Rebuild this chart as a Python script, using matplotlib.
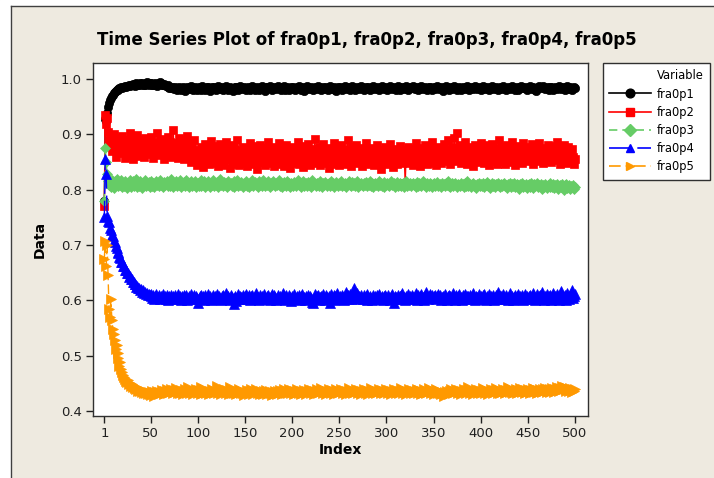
import numpy as np
import matplotlib
matplotlib.use("Agg")
import matplotlib.pyplot as plt
from matplotlib.lines import Line2D
from matplotlib.patches import Rectangle

# 各系列の値 (千分率で記録、描画時に /1000)
fra0p1_k = [
    780, 928, 925, 938, 950, 957, 962, 966, 970, 972, 975, 977, 979, 980, 982, 981, 983, 984, 985, 984, 986, 985, 987, 986, 988,
    987, 989, 988, 990, 989, 991, 990, 988, 991, 992, 990, 989, 991, 993, 990, 992, 991, 989, 990, 992, 994, 991, 990, 992, 991,
    993, 990, 989, 991, 992, 990, 988, 991, 993, 995, 992, 990, 989, 991, 990, 988, 987, 989, 986, 984, 985, 983, 986, 984, 982,
    985, 983, 981, 984, 986, 982, 980, 983, 985, 984, 981, 979, 983, 986, 984, 982, 985, 987, 984, 981, 983, 985, 982, 980, 984,
    986, 983, 981, 985, 987, 984, 982, 980, 983, 986, 985, 982, 979, 983, 985, 984, 986, 983, 981, 984, 987, 985, 982, 984, 986,
    983, 980, 982, 985, 987, 984, 981, 983, 986, 984, 982, 978, 981, 984, 986, 985, 983, 980, 984, 987, 985, 982, 984, 986, 983,
    981, 984, 986, 983, 980, 982, 985, 988, 985, 982, 980, 983, 986, 984, 981, 983, 985, 987, 984, 982, 979, 983, 986, 985, 983,
    984, 987, 984, 981, 983, 986, 984, 982, 985, 988, 985, 983, 980, 982, 985, 987, 984, 981, 983, 985, 983, 980, 984, 986, 983,
    985, 982, 980, 983, 986, 984, 987, 984, 981, 983, 985, 982, 978, 982, 985, 987, 985, 982, 984, 986, 983, 981, 983, 986, 984,
    982, 985, 988, 985, 983, 980, 983, 986, 984, 982, 985, 983, 981, 984, 987, 985, 982, 983, 986, 984, 981, 979, 983, 985, 984,
    986, 983, 980, 982, 985, 987, 985, 982, 984, 986, 983, 981, 984, 987, 985, 983, 980, 983, 986, 984, 982, 985, 988, 985, 983,
    981, 983, 986, 984, 982, 985, 983, 980, 982, 985, 987, 984, 982, 984, 986, 983, 981, 983, 985, 988, 985, 982, 984, 986, 983,
    980, 983, 985, 987, 984, 982, 984, 986, 983, 981, 984, 987, 985, 982, 980, 983, 986, 984, 982, 985, 987, 984, 981, 983, 985,
    983, 986, 988, 985, 982, 984, 986, 983, 980, 982, 985, 987, 984, 982, 984, 986, 984, 981, 983, 986, 985, 982, 980, 983, 986,
    984, 982, 985, 987, 985, 982, 984, 986, 983, 979, 982, 985, 987, 985, 983, 981, 984, 986, 984, 982, 985, 988, 986, 983, 981,
    984, 986, 983, 981, 983, 986, 984, 982, 985, 987, 985, 983, 980, 983, 986, 984, 982, 985, 987, 984, 982, 984, 986, 983, 981,
    983, 985, 988, 985, 982, 984, 986, 983, 980, 982, 985, 987, 985, 982, 984, 986, 984, 981, 983, 986, 984, 982, 985, 987, 984,
    982, 980, 983, 986, 984, 982, 985, 987, 985, 983, 981, 984, 986, 983, 981, 983, 986, 988, 985, 983, 984, 986, 983, 980, 983,
    985, 987, 984, 982, 984, 986, 983, 981, 979, 982, 985, 987, 985, 983, 985, 987, 984, 982, 984, 986, 984, 981, 983, 986, 985,
    983, 981, 984, 986, 984, 982, 985, 987, 985, 982, 984, 986, 983, 981, 983, 985, 987, 984, 982, 985, 983, 981, 984, 986, 984,
]

fra0p2_k = [
    770, 935, 918, 930, 905, 890, 880, 895, 870, 885, 900, 872, 860, 888, 878, 893, 866, 881, 875, 897, 869, 884, 858, 890, 876,
    862, 887, 903, 871, 879, 856, 892, 868, 883, 874, 899, 865, 880, 861, 889, 873, 885, 859, 894, 870, 877, 864, 891, 882, 868,
    896, 873, 857, 886, 879, 866, 902, 875, 884, 862, 891, 870, 878, 855, 888, 881, 869, 895, 874, 863, 887, 876, 860, 908, 872,
    885, 867, 880, 858, 893, 871, 877, 864, 889, 856, 875, 882, 868, 897, 861, 879, 873, 850, 884, 866, 890, 858, 872, 845, 862,
    848, 870, 855, 877, 862, 841, 866, 883, 852, 859, 874, 846, 868, 888, 857, 863, 849, 879, 854, 871, 843, 865, 860, 882, 851,
    867, 845, 876, 858, 886, 853, 862, 871, 840, 869, 856, 880, 847, 864, 873, 852, 889, 861, 844, 870, 857, 866, 878, 849, 863,
    874, 842, 860, 868, 885, 851, 865, 857, 879, 846, 862, 872, 838, 867, 855, 881, 850, 869, 859, 876, 844, 863, 871, 853, 887,
    848, 861, 873, 856, 866, 842, 878, 859, 852, 870, 884, 847, 864, 857, 875, 843, 868, 860, 881, 851, 866, 873, 839, 862, 857,
    877, 849, 864, 871, 855, 886, 846, 860, 868, 853, 879, 841, 865, 857, 872, 850, 883, 862, 845, 869, 856, 874, 860, 892, 848,
    863, 870, 852, 878, 845, 866, 858, 882, 849, 867, 873, 855, 861, 840, 876, 859, 869, 847, 885, 856, 864, 851, 872, 862, 844,
    868, 880, 853, 861, 874, 846, 866, 858, 889, 850, 863, 870, 843, 877, 857, 865, 852, 881, 848, 862, 871, 855, 867, 842, 875,
    860, 853, 884, 864, 847, 869, 858, 876, 851, 862, 873, 844, 866, 856, 880, 849, 868, 861, 838, 872, 857, 865, 852, 878, 846,
    862, 870, 855, 883, 850, 864, 841, 868, 859, 874, 846, 863, 857, 879, 853, 866, 849, 872, 860, 812, 865, 854, 877, 848, 869,
    858, 873, 845, 867, 861, 884, 852, 864, 856, 871, 843, 876, 859, 866, 850, 881, 862, 847, 869, 855, 873, 860, 886, 849, 864,
    857, 870, 844, 878, 862, 853, 867, 848, 875, 860, 882, 851, 866, 857, 889, 855, 871, 846, 868, 877, 859, 893, 864, 852, 903,
    870, 858, 881, 849, 866, 874, 855, 887, 861, 847, 869, 857, 878, 852, 865, 873, 843, 862, 880, 856, 868, 850, 876, 861, 884,
    853, 867, 874, 848, 863, 880, 857, 870, 845, 866, 859, 883, 851, 872, 862, 876, 846, 865, 889, 855, 869, 852, 878, 860, 871,
    847, 866, 881, 856, 863, 873, 850, 886, 861, 868, 845, 875, 858, 866, 853, 879, 862, 870, 848, 884, 857, 873, 865, 851, 877,
    860, 869, 855, 882, 864, 846, 872, 858, 878, 852, 867, 885, 856, 863, 871, 849, 876, 861, 868, 854, 880, 862, 857, 874, 850,
    866, 879, 858, 871, 853, 887, 862, 869, 847, 875, 860, 866, 881, 855, 872, 849, 864, 877, 858, 868, 852, 873, 860, 846, 856,
]

fra0p3_k = [
    780, 875, 850, 828, 815, 808, 812, 805, 818, 810, 803, 815, 808, 820, 811, 806, 814, 809, 817, 804, 812, 807, 816, 810, 803,
    813, 808, 818, 805, 811, 816, 806, 812, 809, 819, 804, 811, 807, 815, 810, 803, 813, 808, 817, 806, 812, 809, 814, 805, 811,
    816, 807, 812, 804, 810, 815, 808, 813, 806, 818, 809, 811, 805, 814, 808, 812, 816, 806, 810, 813, 807, 819, 809, 805, 812,
    808, 815, 806, 811, 809, 817, 804, 812, 808, 814, 810, 806, 818, 809, 813, 805, 811, 816, 807, 812, 809, 815, 804, 810, 813,
    807, 812, 818, 806, 811, 809, 815, 805, 812, 808, 816, 810, 804, 813, 809, 817, 806, 811, 808, 814, 810, 805, 812, 819, 808,
    811, 806, 814, 809, 812, 805, 816, 808, 811, 813, 807, 810, 815, 804, 812, 809, 817, 806, 811, 808, 814, 810, 805, 813, 809,
    816, 807, 811, 804, 813, 809, 812, 818, 806, 810, 814, 808, 811, 805, 815, 809, 812, 807, 817, 810, 806, 813, 808, 811, 815,
    809, 805, 812, 808, 816, 810, 806, 813, 809, 811, 817, 807, 812, 804, 810, 814, 808, 811, 806, 815, 809, 812, 805, 813, 810,
    807, 814, 810, 806, 812, 818, 808, 811, 805, 813, 809, 816, 807, 810, 812, 806, 814, 809, 811, 805, 817, 808, 812, 810, 806,
    813, 809, 811, 807, 815, 810, 805, 812, 808, 814, 811, 806, 810, 813, 807, 816, 809, 812, 805, 811, 808, 814, 810, 806, 812,
    809, 815, 807, 811, 808, 813, 805, 810, 812, 816, 808, 811, 806, 814, 809, 812, 807, 810, 815, 805, 811, 808, 813, 809, 806,
    812, 808, 814, 810, 806, 811, 809, 816, 807, 812, 805, 810, 813, 808, 811, 806, 815, 809, 812, 807, 810, 814, 805, 811, 808,
    813, 809, 806, 811, 815, 808, 810, 812, 805, 809, 814, 807, 811, 808, 813, 806, 810, 812, 804, 809, 815, 807, 811, 808, 812,
    806, 810, 813, 808, 811, 805, 809, 814, 807, 812, 809, 806, 811, 815, 808, 810, 804, 812, 809, 807, 813, 810, 805, 811, 808,
    812, 807, 810, 814, 806, 809, 811, 805, 813, 808, 810, 806, 812, 809, 815, 807, 811, 804, 809, 812, 806, 810, 813, 808, 805,
    811, 809, 806, 813, 808, 810, 804, 812, 807, 809, 815, 806, 811, 808, 805, 810, 813, 807, 809, 803, 811, 808, 812, 806, 810,
    807, 812, 809, 805, 811, 808, 814, 806, 810, 803, 809, 812, 807, 810, 805, 811, 808, 813, 806, 809, 804, 811, 807, 810, 812,
    806, 809, 803, 811, 808, 813, 805, 810, 807, 812, 804, 809, 806, 811, 808, 802, 810, 807, 813, 805, 809, 806, 811, 803, 808,
    810, 805, 812, 807, 809, 803, 811, 806, 808, 813, 804, 809, 806, 810, 801, 808, 805, 811, 807, 803, 809, 806, 812, 804, 808,
    805, 810, 803, 808, 806, 811, 802, 807, 809, 804, 810, 806, 799, 808, 805, 810, 803, 807, 809, 801, 806, 804, 808, 802, 805,
]

fra0p4_k = [
    750, 855, 828, 752, 744, 741, 731, 728, 719, 717, 708, 706, 698, 695, 687, 685, 678, 677, 670, 669, 662, 662, 655, 655, 649,
    649, 643, 644, 638, 639, 633, 634, 629, 630, 625, 626, 622, 623, 619, 620, 616, 618, 614, 616, 612, 614, 610, 612, 609, 611,
    608, 605, 610, 603, 607, 611, 604, 606, 609, 602, 608, 605, 612, 604, 607, 603, 609, 606, 601, 608, 605, 610, 603, 607, 604,
    609, 602, 606, 611, 604, 608, 601, 607, 605, 610, 603, 606, 609, 600, 605, 608, 603, 611, 606, 604, 609, 602, 607, 605, 596,
    604, 608, 602, 610, 605, 607, 601, 609, 604, 606, 612, 603, 607, 600, 605, 609, 604, 608, 602, 611, 606, 603, 608, 605, 601,
    607, 610, 604, 606, 613, 602, 608, 605, 601, 609, 606, 603, 594, 604, 607, 599, 605, 611, 603, 608, 606, 602, 609, 604, 607,
    612, 603, 606, 609, 601, 607, 604, 610, 605, 602, 608, 614, 604, 606, 600, 609, 605, 607, 603, 611, 606, 602, 608, 604, 610,
    605, 601, 607, 612, 603, 609, 606, 600, 605, 610, 604, 608, 602, 606, 613, 604, 607, 601, 609, 605, 603, 610, 606, 599, 608,
    604, 611, 606, 602, 608, 605, 609, 601, 607, 604, 612, 603, 606, 600, 608, 605, 610, 602, 607, 604, 597, 596, 605, 611, 603,
    607, 604, 610, 601, 606, 608, 603, 612, 605, 600, 609, 606, 602, 608, 595, 611, 606, 603, 609, 601, 607, 605, 614, 604, 602,
    608, 603, 610, 606, 600, 607, 615, 604, 609, 602, 606, 611, 603, 608, 605, 622, 609, 606, 613, 604, 607, 602, 610, 605, 603,
    609, 604, 607, 601, 611, 606, 603, 608, 605, 600, 610, 604, 607, 602, 609, 606, 612, 603, 605, 608, 601, 607, 604, 610, 606,
    603, 609, 605, 601, 607, 612, 604, 595, 608, 606, 602, 610, 605, 607, 603, 609, 614, 604, 606, 601, 608, 605, 611, 603, 607,
    604, 610, 606, 602, 608, 613, 605, 600, 609, 603, 607, 611, 604, 606, 601, 609, 616, 605, 603, 608, 612, 606, 610, 604, 607,
    605, 610, 603, 607, 612, 604, 609, 601, 606, 608, 603, 611, 605, 600, 607, 610, 604, 608, 602, 606, 613, 605, 601, 609, 604,
    607, 611, 603, 606, 600, 609, 605, 612, 604, 607, 602, 608, 605, 610, 603, 606, 614, 604, 601, 608, 606, 603, 611, 605, 607,
    602, 609, 604, 612, 606, 600, 608, 605, 611, 603, 607, 604, 610, 601, 606, 609, 603, 615, 605, 608, 602, 607, 604, 611, 606,
    603, 609, 605, 601, 608, 613, 604, 607, 600, 606, 610, 603, 608, 605, 612, 602, 607, 604, 609, 601, 606, 611, 604, 608, 603,
    607, 610, 602, 606, 614, 604, 608, 601, 605, 611, 603, 607, 609, 602, 616, 605, 601, 608, 606, 612, 603, 607, 604, 610, 601,
    606, 613, 604, 608, 602, 611, 605, 600, 609, 617, 603, 607, 604, 610, 601, 608, 614, 605, 603, 609, 606, 618, 604, 607, 612,
]

fra0p5_k = [
    675, 708, 662, 700, 645, 585, 570, 602, 565, 548, 540, 528, 512, 520, 505, 495, 482, 488, 476, 470, 466, 461, 458, 455, 452,
    456, 449, 451, 446, 448, 443, 445, 441, 444, 439, 442, 437, 440, 436, 439, 434, 437, 433, 436, 432, 435, 431, 434, 430, 433,
    429, 436, 432, 428, 434, 431, 437, 433, 430, 435, 432, 438, 434, 431, 436, 433, 439, 435, 432, 437, 434, 440, 436, 433, 438,
    434, 441, 437, 433, 436, 432, 438, 435, 431, 437, 434, 439, 435, 432, 443, 436, 433, 438, 435, 431, 437, 434, 440, 436, 432,
    438, 435, 431, 444, 436, 433, 439, 435, 432, 437, 434, 430, 436, 433, 439, 435, 432, 437, 434, 445, 436, 433, 438, 435, 431,
    437, 434, 440, 436, 432, 438, 435, 431, 443, 437, 433, 436, 432, 438, 434, 431, 437, 433, 439, 435, 432, 436, 433, 429, 435,
    432, 438, 434, 430, 436, 433, 439, 435, 431, 437, 434, 440, 436, 432, 435, 431, 437, 433, 430, 436, 432, 438, 434, 431, 435,
    432, 437, 433, 429, 435, 431, 437, 434, 430, 436, 432, 438, 434, 431, 436, 433, 439, 435, 432, 437, 433, 440, 436, 432, 438,
    434, 431, 436, 433, 439, 435, 432, 437, 434, 430, 436, 433, 438, 435, 431, 437, 434, 440, 436, 432, 438, 435, 431, 437, 433,
    439, 435, 432, 437, 434, 441, 436, 433, 438, 435, 431, 437, 434, 439, 435, 432, 438, 434, 431, 436, 433, 439, 435, 432, 437,
    434, 440, 436, 433, 438, 435, 431, 437, 434, 442, 437, 433, 438, 435, 432, 437, 434, 439, 436, 432, 438, 435, 431, 437, 434,
    440, 436, 433, 438, 435, 431, 437, 434, 441, 436, 433, 438, 435, 432, 437, 434, 440, 436, 433, 438, 435, 432, 437, 434, 439,
    436, 432, 438, 435, 431, 437, 434, 440, 436, 433, 438, 435, 432, 437, 434, 441, 436, 433, 438, 435, 431, 437, 434, 439, 436,
    433, 438, 435, 432, 437, 434, 440, 436, 433, 438, 435, 431, 436, 433, 439, 435, 432, 437, 434, 441, 436, 432, 438, 435, 431,
    437, 434, 439, 435, 432, 436, 433, 430, 435, 432, 428, 434, 431, 437, 433, 430, 436, 433, 439, 435, 432, 437, 434, 440, 436,
    433, 438, 435, 431, 437, 434, 440, 436, 432, 438, 435, 443, 437, 433, 438, 435, 431, 437, 434, 440, 436, 433, 438, 435, 432,
    437, 434, 441, 436, 433, 438, 435, 431, 437, 434, 440, 436, 432, 438, 435, 442, 437, 433, 438, 435, 432, 437, 434, 439, 436,
    433, 438, 435, 444, 437, 434, 439, 435, 432, 437, 434, 440, 436, 433, 438, 435, 441, 437, 434, 439, 436, 432, 438, 435, 440,
    436, 433, 438, 435, 441, 437, 434, 439, 436, 432, 438, 435, 440, 437, 434, 439, 436, 442, 438, 435, 440, 437, 434, 439, 436,
    441, 438, 435, 440, 437, 443, 439, 436, 441, 438, 446, 442, 439, 444, 440, 437, 442, 439, 436, 441, 438, 435, 440, 437, 439,
]

names = ["fra0p1", "fra0p2", "fra0p3", "fra0p4", "fra0p5"]
values = [fra0p1_k, fra0p2_k, fra0p3_k, fra0p4_k, fra0p5_k]
assert all(len(v) == 500 for v in values), [len(v) for v in values]

x_ticks = [1, 50, 100, 150, 200, 250, 300, 350, 400, 450, 500]
y_ticks = [0.4, 0.5, 0.6, 0.7, 0.8, 0.9, 1.0]

# 系列ごとの見た目 (色, マーカー, 線種, マーカーサイズ)
styles = [
    ("#000000", "o", "-", 6.0),
    ("#FF0000", "s", "-", 6.0),
    ("#66CC66", "D", (0, (5, 3)), 5.6),
    ("#0000FF", "^", (0, (12, 5)), 7.0),
    ("#FF9900", ">", (0, (7, 3, 2, 3)), 7.0),
]

bg = "#EEEAE0"
W, H = 714, 478
fig = plt.figure(figsize=(W / 100, H / 100), dpi=100, facecolor=bg)

# 外枠 (左と上の白い余白と枠線)
fig.patches.append(Rectangle((0, 0), 11 / W, 1, transform=fig.transFigure, color="white", zorder=0))
fig.patches.append(Rectangle((0, 1 - 5 / H), 1, 5 / H, transform=fig.transFigure, color="white", zorder=0))
fig.add_artist(Line2D([11.5 / W, 11.5 / W], [0, 1 - 5.5 / H], transform=fig.transFigure, color="#404040", lw=1))
fig.add_artist(Line2D([11.5 / W, 1], [1 - 5.5 / H, 1 - 5.5 / H], transform=fig.transFigure, color="#404040", lw=1))

ax = fig.add_axes([93 / W, 1 - 416 / H, (588 - 93) / W, (416 - 63) / H])
ax.set_facecolor("white")

idx = np.arange(1, 501)
handles = [Line2D([], [], linestyle="none")]
labels = ["Variable"]
for name, v, (c, m, ls, ms) in zip(names, values, styles):
    y = np.array(v) / 1000
    ax.plot(idx, y, linestyle=ls, color=c, lw=1, marker=m, ms=ms, mec=c, mew=0.5)
    handles.append(Line2D([], [], linestyle=ls, color=c, lw=1.2, marker=m, ms=6.3, mec=c))
    labels.append(name)

ax.set_xlim(-11, 513.8)
ax.set_ylim(0.391, 1.029)
ax.set_xticks(x_ticks)
ax.set_yticks(y_ticks)
ax.set_yticklabels([f"{t:.1f}" for t in y_ticks])
ax.tick_params(direction="out", length=5, width=1, labelsize=9.5, colors="#202020", pad=3)
for s in ax.spines.values():
    s.set_color("#303030")
    s.set_linewidth(1)

ax.set_xlabel("Index", fontsize=10, fontweight="bold", labelpad=2)
ax.set_ylabel("Data", fontsize=10, fontweight="bold", labelpad=10)

fig.text(367 / W, 1 - 40 / H, "Time Series Plot of fra0p1, fra0p2, fra0p3, fra0p4, fra0p5",
         ha="center", va="center", fontsize=12, fontweight="bold")

leg = fig.legend(handles, labels, loc="upper left", bbox_to_anchor=(603 / W, 1 - 63 / H),
                 bbox_transform=fig.transFigure, frameon=True, fancybox=False,
                 edgecolor="#303030", facecolor="white", framealpha=1, fontsize=8.3,
                 handlelength=3.6, handletextpad=0.5, labelspacing=0.45, borderpad=0.55,
                 borderaxespad=0)
leg.get_frame().set_linewidth(1)

fig.savefig("out.png", dpi=100, facecolor=bg)
